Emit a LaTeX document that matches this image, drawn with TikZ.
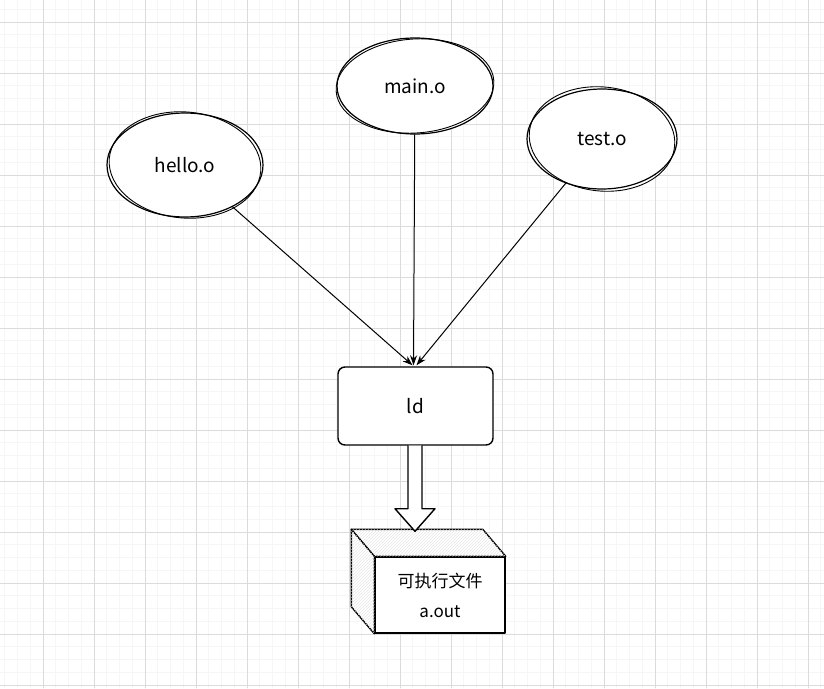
\documentclass[tikz,border=0pt]{standalone}
\usepackage{fontspec}
\setmainfont{Noto Sans CJK SC}
\usepackage{tikz}
\usetikzlibrary{calc}
\usetikzlibrary{positioning}
\usetikzlibrary{arrows.meta, shapes.geometric}
\usetikzlibrary{patterns}

\tikzset{
  gridminor/.style={draw=gray!7, line width=0.8pt},
  gridmajor/.style={draw=gray!28, line width=0.8pt},
  obj/.style={ellipse, draw=black, line width=1.2pt, fill=white, inner sep=0pt,
    font=\fontsize{19}{22}\selectfont},
  sketch/.style={draw=black, line width=0.9pt},
  linker/.style={rectangle, rounded corners=7pt, draw=black, line width=1.4pt, fill=white,
    minimum width=155pt, minimum height=78pt, font=\fontsize{19}{22}\selectfont},
  feed/.style={-{Stealth[length=10pt,width=7pt]}, line width=1pt},
  blockarrow/.style={draw=black, line width=1.4pt, fill=white, line join=round},
  face/.style={draw=black, line width=1.4pt, fill=white},
  hatch/.style={pattern=north east lines, pattern color=gray!18}
}

\begin{document}
\begin{tikzpicture}[x=1pt, y=-1pt, line cap=round, line join=round]

  \useasboundingbox (0,0) rectangle (824,688);

  %--------------------------
  % Background grid
  %--------------------------
  \fill[white] (0,0) rectangle (824,688);
  \foreach \k in {0,...,64} {
    \draw[gridminor] (4.75+12.75*\k,0) -- (4.75+12.75*\k,688);
  }
  \foreach \k in {0,...,53} {
    \draw[gridminor] (0,9.25+12.75*\k) -- (824,9.25+12.75*\k);
  }
  \foreach \k in {0,...,15} {
    \draw[gridmajor] (43+51*\k,0) -- (43+51*\k,688);
  }
  \foreach \k in {0,...,13} {
    \draw[gridmajor] (0,22+51*\k) -- (824,22+51*\k);
  }

  %--------------------------
  % Object files
  %--------------------------
  \node[obj, minimum width=156pt, minimum height=104pt] (hello) at (185,165) {hello.o};
  \node[obj, minimum width=156pt, minimum height=96pt] (main) at (415,86) {main.o};
  \node[obj, minimum width=150pt, minimum height=100pt] (test) at (602,139) {test.o};

  % second stroke for the hand-drawn look
  \draw[sketch, rotate around={-5:(hello.center)}] (hello.center) ellipse (76pt and 53pt);
  \draw[sketch, rotate around={4:(main.center)}] (main.center) ellipse (79pt and 47pt);
  \draw[sketch, rotate around={-6:(test.center)}] (test.center) ellipse (73pt and 52pt);

  %--------------------------
  % Linker
  %--------------------------
  \node[linker] (ld) at (415.5,406) {ld};

  \draw[feed] (hello) -- ($(ld.north)+(-3,-1)$);
  \draw[feed] (main) -- ($(ld.north)+(-2,-1)$);
  \draw[feed] (test) -- ($(ld.north)+(1,-1)$);

  %--------------------------
  % Output file (box)
  %--------------------------
  \node[face, minimum width=130pt, minimum height=76pt, align=center,
    font=\fontsize{17}{30}\selectfont] (aout) at (440,595) {可执行文件\\a.out};

  \coordinate (tl) at ($(aout.north west)+(-23,-27)$);
  \coordinate (tr) at ($(aout.north east)+(-23,-27)$);
  \coordinate (bl) at ($(aout.south west)+(-23,-27)$);

  \filldraw[face] (tl) -- (tr) -- (aout.north east) -- (aout.north west) -- cycle;
  \fill[hatch] (tl) -- (tr) -- (aout.north east) -- (aout.north west) -- cycle;
  \filldraw[face] (tl) -- (aout.north west) -- (aout.south west) -- (bl) -- cycle;
  \fill[hatch] (tl) -- (aout.north west) -- (aout.south west) -- (bl) -- cycle;

  % block arrow from ld to the output
  \draw[blockarrow] ($(ld.south)+(-7.5,0)$) -- ($(ld.south)+(-7.5,63)$)
    -- ($(ld.south)+(-20.5,63)$) -- ($(tl)!0.5!(tr)+(-2,2)$)
    -- ($(ld.south)+(19.5,63)$) -- ($(ld.south)+(6.5,63)$)
    -- ($(ld.south)+(6.5,0)$);

\end{tikzpicture}
\end{document}
